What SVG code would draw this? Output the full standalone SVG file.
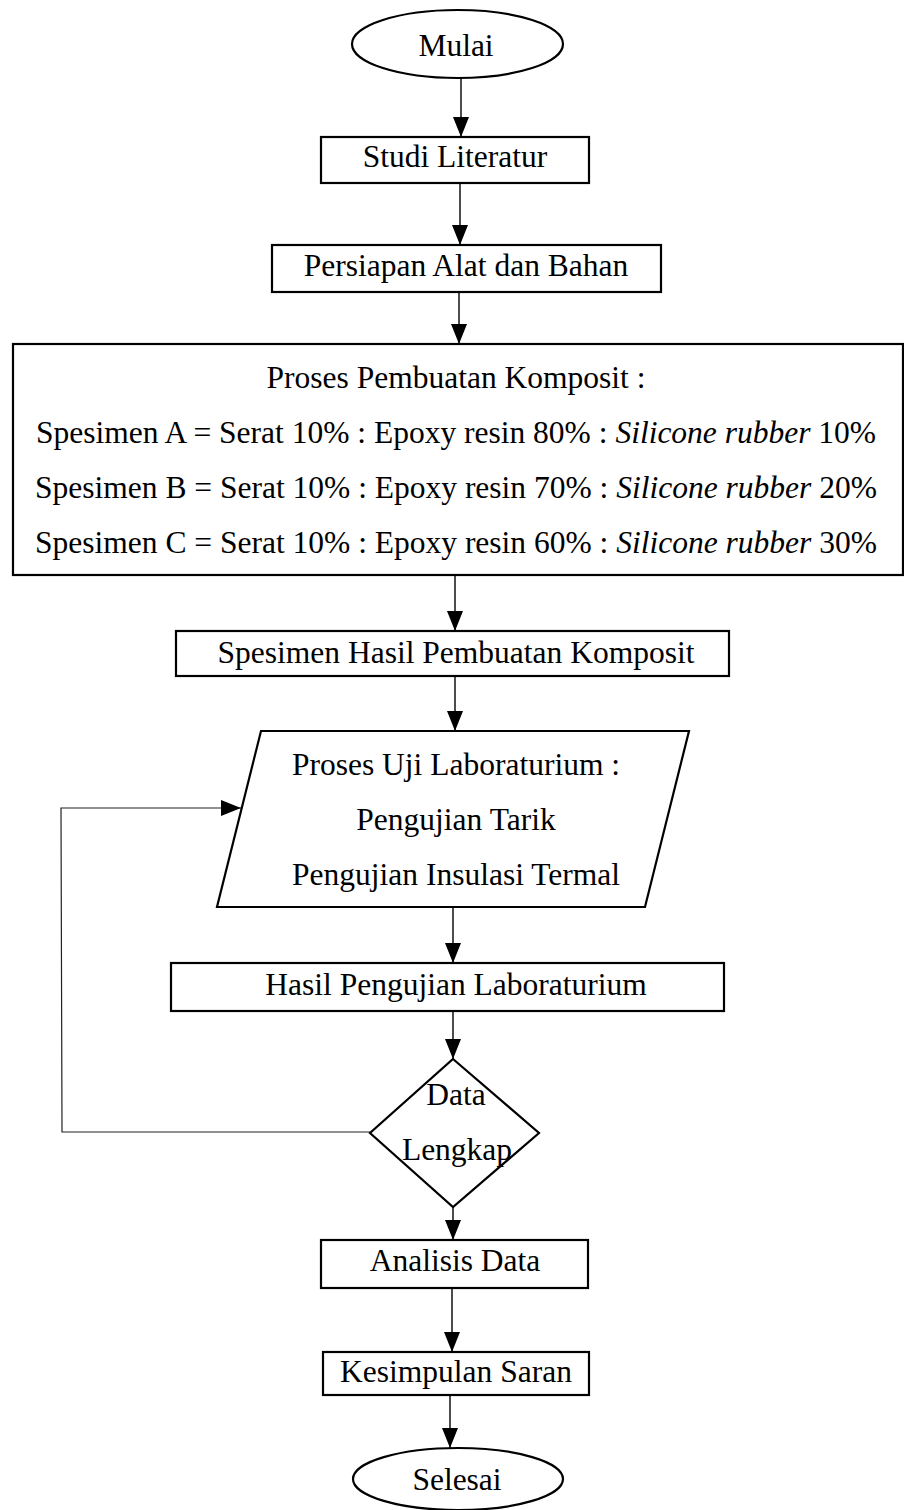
<svg xmlns="http://www.w3.org/2000/svg" width="904" height="1510" viewBox="0 0 904 1510">
<style>
  text { font-family: "Liberation Serif", "Times New Roman", serif; font-size: 31.5px; fill: #000; text-anchor: middle; }
  .shape { fill: #fff; stroke: #000; stroke-width: 2.2; }
  .conn { fill: none; stroke: #000; stroke-width: 1.4; }
  .fb { fill: none; stroke: #222; stroke-width: 1.2; }
  .it { font-style: italic; }
</style>
<defs>
  <marker id="arr" markerUnits="userSpaceOnUse" markerWidth="20" markerHeight="16" refX="20" refY="8" orient="auto">
    <path d="M0,0 L20,8 L0,16 Z" fill="#000"/>
  </marker>
</defs>
<rect x="0" y="0" width="904" height="1510" fill="#fff"/>

<g id="connectors">
  <line class="conn" x1="461" y1="78" x2="461" y2="137" marker-end="url(#arr)"/>
  <line class="conn" x1="460" y1="183" x2="460" y2="245" marker-end="url(#arr)"/>
  <line class="conn" x1="459" y1="292" x2="459" y2="344" marker-end="url(#arr)"/>
  <line class="conn" x1="455" y1="575" x2="455" y2="631" marker-end="url(#arr)"/>
  <line class="conn" x1="455" y1="676" x2="455" y2="731" marker-end="url(#arr)"/>
  <line class="conn" x1="453" y1="907" x2="453" y2="963" marker-end="url(#arr)"/>
  <line class="conn" x1="453" y1="1011" x2="453" y2="1059" marker-end="url(#arr)"/>
  <line class="conn" x1="453" y1="1207" x2="453" y2="1240" marker-end="url(#arr)"/>
  <line class="conn" x1="452" y1="1288" x2="452" y2="1352" marker-end="url(#arr)"/>
  <line class="conn" x1="450" y1="1395" x2="450" y2="1448" marker-end="url(#arr)"/>
  <polyline class="fb" points="370,1132 62,1132 61,808 241,808" marker-end="url(#arr)"/>
</g>

<g id="mulai">
  <ellipse class="shape" cx="457.5" cy="44" rx="105.5" ry="34"/>
  <text x="456" y="56">Mulai</text>
</g>

<g id="studi">
  <rect class="shape" x="321" y="137" width="268" height="46"/>
  <text x="455" y="167">Studi Literatur</text>
</g>

<g id="persiapan">
  <rect class="shape" x="272" y="245" width="389" height="47"/>
  <text x="466" y="276">Persiapan Alat dan Bahan</text>
</g>

<g id="proses-komposit">
  <rect class="shape" x="13" y="344" width="890" height="231"/>
  <text x="456" y="388">Proses Pembuatan Komposit :</text>
  <text x="456" y="443">Spesimen A = Serat 10% : Epoxy resin 80% : <tspan class="it">Silicone rubber</tspan> 10%</text>
  <text x="456" y="498">Spesimen B = Serat 10% : Epoxy resin 70% : <tspan class="it">Silicone rubber</tspan> 20%</text>
  <text x="456" y="553">Spesimen C = Serat 10% : Epoxy resin 60% : <tspan class="it">Silicone rubber</tspan> 30%</text>
</g>

<g id="spesimen-hasil">
  <rect class="shape" x="176" y="631" width="553" height="45"/>
  <text x="456" y="663">Spesimen Hasil Pembuatan Komposit</text>
</g>

<g id="uji-lab">
  <polygon class="shape" points="261,731 689,731 645,907 217,907"/>
  <text x="456" y="775">Proses Uji Laboraturium :</text>
  <text x="456" y="830">Pengujian Tarik</text>
  <text x="456" y="885">Pengujian Insulasi Termal</text>
</g>

<g id="hasil-uji">
  <rect class="shape" x="171" y="963" width="553" height="48"/>
  <text x="456" y="995">Hasil Pengujian Laboraturium</text>
</g>

<g id="data-lengkap">
  <polygon class="shape" points="453,1059 539,1133 453,1207 370,1133"/>
  <text x="456" y="1105">Data</text>
  <text x="457" y="1160">Lengkap</text>
</g>

<g id="analisis">
  <rect class="shape" x="321" y="1240" width="267" height="48"/>
  <text x="455" y="1271">Analisis Data</text>
</g>

<g id="kesimpulan">
  <rect class="shape" x="323" y="1352" width="266" height="43"/>
  <text x="456" y="1382">Kesimpulan Saran</text>
</g>

<g id="selesai">
  <ellipse class="shape" cx="458" cy="1479" rx="105" ry="31"/>
  <text x="457" y="1490">Selesai</text>
</g>
</svg>
